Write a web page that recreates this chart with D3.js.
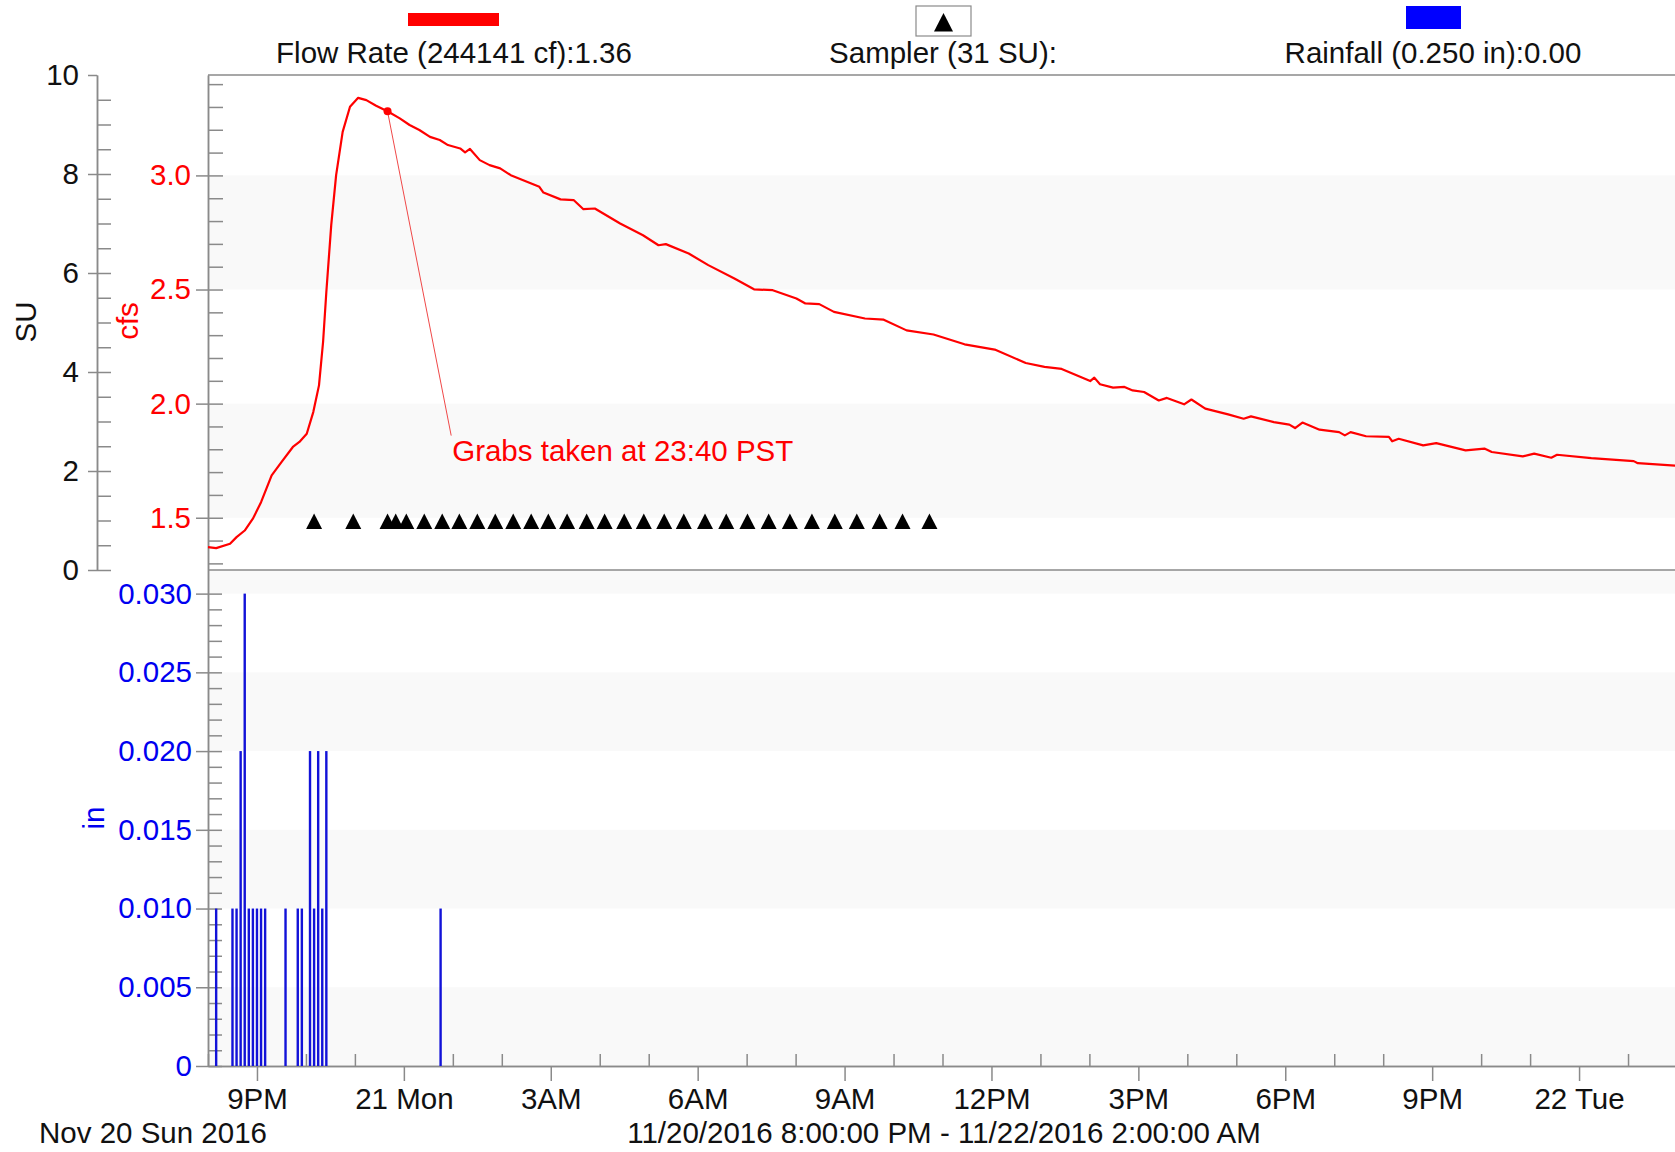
<!DOCTYPE html>
<html>
<head>
<meta charset="utf-8">
<script src="https://cdn.jsdelivr.net/npm/d3@7"></script>
<style>
    body { margin: 0; background: #fff; }
    svg text { font-family: "Liberation Sans", Arial, sans-serif; }
</style>
</head>
<body>
<div id="svg-container"></div>
<script>
const svgWidth = 1675;
const svgHeight = 1152;

// plot frame, the right edge runs a little past the window like the original
const plot = {
    left: 208, right: 1677, top: 75, middle: 570, bottom: 1066
}

const startTime = new Date(2016, 10, 20, 20, 0);
const endTime = new Date(2016, 10, 22, 2, 0);

// flow rate (cfs), minutes after 8:00 PM
const flowMinutes = [0, 10, 27, 35, 45, 55, 65, 78, 90, 104,
    112, 121, 129, 136, 141, 145, 151, 157, 165, 174,
    184, 194, 206, 221, 235, 247, 259, 272, 284, 294,
    309, 315, 321, 333, 345, 358, 371, 406, 411, 432,
    448, 460, 474, 505, 533, 552, 561, 589, 613, 645,
    669, 692, 721, 732, 749, 767, 805, 828, 856, 889,
    927, 964, 1002, 1025, 1046, 1081, 1086, 1093, 1109, 1123,
    1133, 1147, 1165, 1175, 1196, 1205, 1222, 1250, 1269, 1278,
    1306, 1325, 1332, 1341, 1362, 1386, 1393, 1400, 1419, 1447,
    1451, 1459, 1489, 1505, 1541, 1564, 1573, 1611, 1625, 1646,
    1653, 1695, 1747, 1752, 1800];
const flowCfs = [1.371, 1.367, 1.386, 1.415, 1.444, 1.496, 1.568, 1.686, 1.744, 1.810,
    1.832, 1.868, 1.963, 2.080, 2.270, 2.489, 2.782, 3.001, 3.191, 3.301,
    3.340, 3.330, 3.305, 3.279, 3.250, 3.221, 3.199, 3.169, 3.155, 3.133,
    3.118, 3.101, 3.116, 3.067, 3.045, 3.031, 3.001, 2.950, 2.925, 2.895,
    2.892, 2.852, 2.855, 2.789, 2.738, 2.694, 2.699, 2.658, 2.607, 2.548,
    2.501, 2.497, 2.461, 2.439, 2.436, 2.402, 2.373, 2.368, 2.321, 2.303,
    2.260, 2.237, 2.178, 2.161, 2.152, 2.099, 2.114, 2.085, 2.070, 2.073,
    2.058, 2.051, 2.014, 2.025, 1.997, 2.018, 1.978, 1.953, 1.934, 1.944,
    1.919, 1.908, 1.893, 1.917, 1.886, 1.875, 1.861, 1.875, 1.857, 1.854,
    1.835, 1.846, 1.817, 1.827, 1.795, 1.803, 1.788, 1.769, 1.781, 1.763,
    1.776, 1.761, 1.748, 1.739, 1.728];

// sampler hits, minutes after 8:00 PM
const samplerMinutes = [130, 178, 220, 230, 243, 265, 287, 308, 330, 352,
    374, 396, 417, 440, 464, 486, 510, 534, 559, 583,
    609, 635, 661, 687, 713, 740, 768, 795, 823, 851, 884];
const samplerSU = [1, 1, 1, 1, 1, 1, 1, 1, 1, 1,
    1, 1, 1, 1, 1, 1, 1, 1, 1, 1,
    1, 1, 1, 1, 1, 1, 1, 1, 1, 1, 1];

// rainfall per 5 minutes (in), minutes after 8:00 PM
const rainMinutes = [10, 30, 35, 40, 45, 50, 55, 60, 65, 70, 95, 110, 115, 125, 130, 135, 140, 145, 285];
const rainInches = [0.01, 0.01, 0.01, 0.02, 0.03, 0.01, 0.01, 0.01, 0.01, 0.01,
    0.01, 0.01, 0.01, 0.02, 0.01, 0.02, 0.01, 0.02, 0.01];

// axis ticks and shaded bands
const suTicks = [0, 2, 4, 6, 8, 10];
const cfsTicks = [1.5, 2.0, 2.5, 3.0];
const inTicks = [0, 0.005, 0.010, 0.015, 0.020, 0.025, 0.030];
const cfsBands = [[1.5, 2.0], [2.5, 3.0]];
const inBands = [[0, 0.005], [0.010, 0.015], [0.020, 0.025], [0.030, 0.0315]];

const legendLabels = ['Flow Rate (244141 cf):1.36', 'Sampler (31 SU):', 'Rainfall (0.250 in):0.00'];

// grab annotation
const grabMinutes = 220;
const grabLabel = 'Grabs taken at 23:40 PST';
const grabLabelMinutes = 298;
const grabLabelCfs = 1.86;

const fontSize = 29.5;
const axisColor = '#8a8a8a';
const red = '#ff0000';
const blue = '#0000f0';

const svg = d3
.select('#svg-container')
.append('svg')
.attr('width', svgWidth)
.attr('height', svgHeight)
.style('display', 'block')

const minute = (m) => d3.timeMinute.offset(startTime, m);

const x = d3.scaleTime()
.domain([startTime, endTime])
.range([plot.left, plot.right]);

const yCfs = d3.scaleLinear()
.domain([1.271, 3.44])
.range([plot.middle, plot.top]);

const ySu = d3.scaleLinear()
.domain([0, 10])
.range([plot.middle, plot.top]);

const yIn = d3.scaleLinear()
.domain([0, 0.0315])
.range([plot.bottom, plot.middle]);

// faint alternating bands
const bands = svg.append('g').attr('fill', '#f9f9f9');
bands.selectAll('.cfs-band')
.data(cfsBands)
.enter()
.append('rect')
.attr('x', plot.left)
.attr('width', plot.right - plot.left)
.attr('y', (d) => yCfs(d[1]))
.attr('height', (d) => yCfs(d[0]) - yCfs(d[1]));

bands.selectAll('.in-band')
.data(inBands)
.enter()
.append('rect')
.attr('x', plot.left)
.attr('width', plot.right - plot.left)
.attr('y', (d) => yIn(d[1]))
.attr('height', (d) => yIn(d[0]) - yIn(d[1]));

// frame lines, top border and the panel divider
svg.append('g')
.selectAll('line')
.data([plot.top, plot.middle])
.enter()
.append('line')
.attr('x1', plot.left)
.attr('x2', plot.right)
.attr('y1', (d) => d)
.attr('y2', (d) => d)
.attr('stroke', axisColor)
.attr('stroke-width', 1.5);

// styles an axis group the same way for all axes
const styleAxis = (g, color) => {
    g.attr('font-size', fontSize)
    .attr('font-family', '"Liberation Sans", Arial, sans-serif');
    g.selectAll('path, line')
    .attr('stroke', axisColor)
    .attr('stroke-width', 1.5);
    g.selectAll('text').attr('fill', color);
}

// SU axis, minor ticks point right, labelled ticks point left
svg.append('g')
.attr('transform', 'translate(97, 0)')
.call(d3.axisLeft(ySu).tickValues(d3.range(0, 10, 0.5)).tickSize(-14).tickSizeOuter(0).tickFormat(''))
.call(styleAxis, '#111');

svg.append('g')
.attr('transform', 'translate(97, 0)')
.call(d3.axisLeft(ySu).tickValues(suTicks).tickSize(9).tickPadding(9).tickSizeOuter(0))
.call(styleAxis, '#111');

// cfs axis
svg.append('g')
.attr('transform', `translate(${plot.left}, 0)`)
.call(d3.axisLeft(yCfs).tickValues(d3.range(1.3, 3.45, 0.1)).tickSize(-15).tickSizeOuter(0).tickFormat(''))
.call(styleAxis, red);

svg.append('g')
.attr('transform', `translate(${plot.left}, 0)`)
.call(d3.axisLeft(yCfs).tickValues(cfsTicks).tickSize(12).tickPadding(5).tickSizeOuter(0).tickFormat(d3.format('.1f')))
.call(styleAxis, red);

// rainfall axis
svg.append('g')
.attr('transform', `translate(${plot.left}, 0)`)
.call(d3.axisLeft(yIn).tickValues(d3.range(0, 0.0305, 0.001)).tickSize(-14).tickSizeOuter(0).tickFormat(''))
.call(styleAxis, blue);

svg.append('g')
.attr('transform', `translate(${plot.left}, 0)`)
.call(d3.axisLeft(yIn).tickValues(inTicks).tickSize(12).tickPadding(4).tickSizeOuter(0)
    .tickFormat((d) => d === 0 ? '0' : d3.format('.3f')(d)))
.call(styleAxis, blue);

// time axis, hourly ticks up and labelled 3 hour ticks down
const hourTicks = x.ticks(d3.timeHour.every(1)).filter((d) => d.getHours() % 3 !== 0);
svg.append('g')
.attr('transform', `translate(0, ${plot.bottom})`)
.call(d3.axisBottom(x).tickValues(hourTicks).tickSize(-12).tickSizeOuter(0).tickFormat(''))
.call(styleAxis, '#111');

const timeLabel = (d) => d.getHours() === 0 ? d3.timeFormat('%d %a')(d) : d3.timeFormat('%-I%p')(d);
svg.append('g')
.attr('transform', `translate(0, ${plot.bottom})`)
.call(d3.axisBottom(x).ticks(d3.timeHour.every(3)).tickSize(15).tickPadding(7).tickSizeOuter(0).tickFormat(timeLabel))
.call(styleAxis, '#111');

// rotated axis titles
const axisTitles = [
    { text: 'SU', x: 35.5, y: 322, color: '#111' },
    { text: 'cfs', x: 138, y: 321, color: red },
    { text: 'in', x: 104, y: 818, color: blue }
];
svg.append('g')
.selectAll('text')
.data(axisTitles)
.enter()
.append('text')
.attr('transform', (d) => `translate(${d.x}, ${d.y}) rotate(-90)`)
.attr('text-anchor', 'middle')
.attr('font-size', fontSize)
.attr('fill', (d) => d.color)
.text((d) => d.text);

// rainfall bars
svg.append('g')
.selectAll('rect')
.data(rainMinutes.map((m, i) => [m, rainInches[i]]))
.enter()
.append('rect')
.attr('x', (d) => x(minute(d[0])) - 1.2)
.attr('width', 2.4)
.attr('y', (d) => yIn(d[1]))
.attr('height', (d) => yIn(0) - yIn(d[1]))
.attr('fill', '#1212d8');

// flow rate line
const flowLine = d3.line()
.x((d) => x(minute(d[0])))
.y((d) => yCfs(d[1]));

svg.append('path')
.datum(flowMinutes.map((m, i) => [m, flowCfs[i]]))
.attr('fill', 'none')
.attr('stroke', red)
.attr('stroke-width', 2.2)
.attr('stroke-linejoin', 'round')
.attr('d', flowLine);

// sampler triangles
const triangle = 'M0,-7L8,8.5L-8,8.5Z';
svg.append('g')
.selectAll('path')
.data(samplerMinutes.map((m, i) => [m, samplerSU[i]]))
.enter()
.append('path')
.attr('d', triangle)
.attr('transform', (d) => `translate(${x(minute(d[0]))}, ${ySu(d[1])})`)
.attr('fill', '#000');

// grab annotation, the marker sits on the flow line
const flowAt = d3.scaleLinear().domain(flowMinutes).range(flowCfs);
const grabX = x(minute(grabMinutes));
const grabY = yCfs(flowAt(grabMinutes));
const labelX = x(minute(grabLabelMinutes));
const labelY = yCfs(grabLabelCfs);

svg.append('line')
.attr('x1', grabX)
.attr('y1', grabY)
.attr('x2', labelX)
.attr('y2', labelY)
.attr('stroke', '#f04848')
.attr('stroke-width', 1);

svg.append('circle')
.attr('cx', grabX)
.attr('cy', grabY)
.attr('r', 4)
.attr('fill', red);

svg.append('text')
.attr('x', labelX + 1)
.attr('y', labelY + 25)
.attr('font-size', fontSize)
.attr('fill', red)
.text(grabLabel);

// legend across the top
const legend = svg.append('g');
const legendCenters = [454, 943, 1433];

legend.selectAll('text')
.data(legendLabels)
.enter()
.append('text')
.attr('x', (d, i) => legendCenters[i])
.attr('y', 63)
.attr('text-anchor', 'middle')
.attr('font-size', fontSize)
.attr('fill', '#111')
.text((d) => d);

legend.append('rect')
.attr('x', 408)
.attr('y', 13)
.attr('width', 91)
.attr('height', 13)
.attr('fill', red);

legend.append('rect')
.attr('x', 916)
.attr('y', 6)
.attr('width', 55)
.attr('height', 30)
.attr('fill', '#fff')
.attr('stroke', axisColor)
.attr('stroke-width', 1.2);

legend.append('path')
.attr('d', 'M0,-9.5L9.5,9L-9.5,9Z')
.attr('transform', 'translate(943.5, 22.5)')
.attr('fill', '#000');

legend.append('rect')
.attr('x', 1406)
.attr('y', 6)
.attr('width', 55)
.attr('height', 23)
.attr('fill', '#0000ff');

// date captions under the time axis
const rangeFormat = d3.timeFormat('%m/%d/%Y %-I:%M:%S %p');
svg.append('text')
.attr('x', 39)
.attr('y', 1143)
.attr('font-size', fontSize)
.attr('fill', '#111')
.text(d3.timeFormat('%b %d %a %Y')(startTime));

svg.append('text')
.attr('x', 944)
.attr('y', 1143)
.attr('text-anchor', 'middle')
.attr('font-size', fontSize)
.attr('fill', '#111')
.text(`${rangeFormat(startTime)} - ${rangeFormat(endTime)}`);
</script>
</body>
</html>
